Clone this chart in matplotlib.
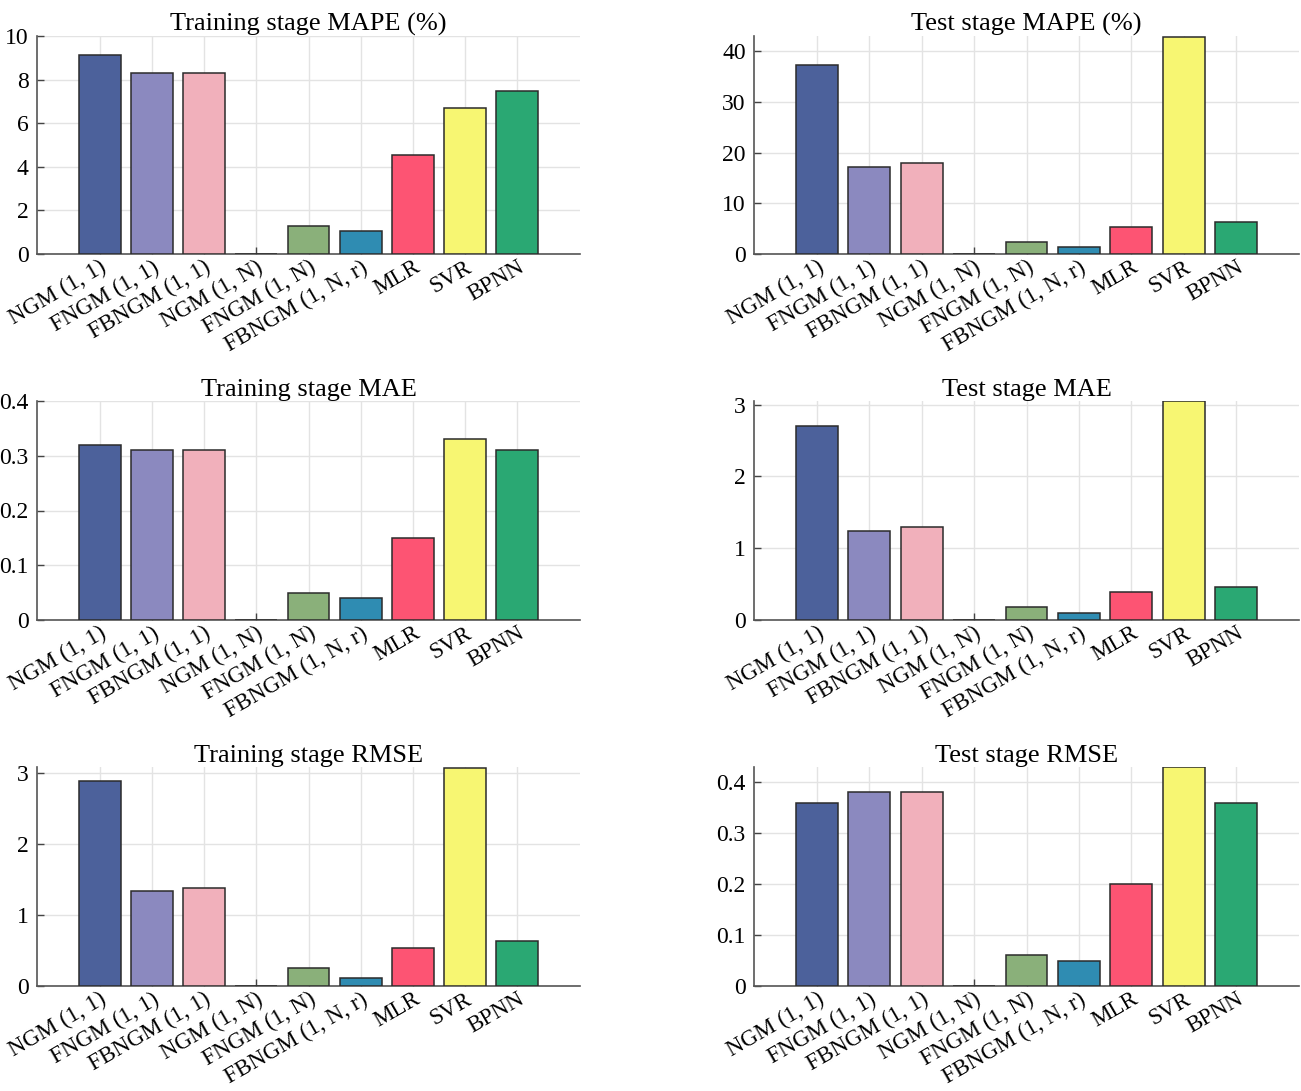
import matplotlib
matplotlib.use("Agg")
import matplotlib.pyplot as plt
import matplotlib.transforms as mtransforms
import numpy as np

models = ["NGM (1, 1)", "FNGM (1, 1)", "FBNGM (1, 1)", "NGM (1, N)", "FNGM (1, N)",
          "FBNGM (1, N, r)", "MLR", "SVR", "BPNN"]
colors = ["#4c619b", "#8b89bf", "#f1b0bb", "#ffffff", "#8ab07a",
          "#2f8cb2", "#fd5473", "#f7f672", "#2aa873"]

train_mape = [9.12, 8.3, 8.28, 0, 1.28, 1.05, 4.52, 6.72, 7.46]
test_mape = [37.3, 17.2, 17.9, 0, 2.4, 1.3, 5.3, 42.9, 6.3]
train_mae = [0.32, 0.31, 0.31, 0, 0.05, 0.04, 0.15, 0.33, 0.31]
test_mae = [2.7, 1.24, 1.3, 0, 0.18, 0.1, 0.39, 3.05, 0.46]
train_rmse = [2.88, 1.33, 1.38, 0, 0.25, 0.11, 0.53, 3.07, 0.63]
test_rmse = [0.36, 0.38, 0.38, 0, 0.06, 0.05, 0.20, 0.43, 0.36]

titles = ["Training stage MAPE (%)", "Test stage MAPE (%)",
          "Training stage MAE", "Test stage MAE",
          "Training stage RMSE", "Test stage RMSE"]
series = [train_mape, test_mape, train_mae, test_mae, train_rmse, test_rmse]
yticks = [[0, 2, 4, 6, 8, 10], [0, 10, 20, 30, 40],
          [0, 0.1, 0.2, 0.3, 0.4], [0, 1, 2, 3],
          [0, 1, 2, 3], [0, 0.1, 0.2, 0.3, 0.4]]
ytlabels = [["0", "2", "4", "6", "8", "10"], ["0", "10", "20", "30", "40"],
            ["0", "0.1", "0.2", "0.3", "0.4"], ["0", "1", "2", "3"],
            ["0", "1", "2", "3"], ["0", "0.1", "0.2", "0.3", "0.4"]]
ylims = [(0, 10), (0, 43), (0, 0.4), (0, 3.05), (0, 3.08), (0, 0.43)]

plt.rcParams["font.family"] = ["Liberation Serif", "DejaVu Serif"]

W, H = 1301, 1091
fig = plt.figure(figsize=(W / 100, H / 100), dpi=100)

lefts = [37, 754]
widths = [543, 545]
rows = [(36, 254), (401, 620), (767, 986)]

x = np.arange(1, len(models) + 1)
for i in range(6):
    r, c = divmod(i, 2)
    top, bot = rows[r]
    ax = fig.add_axes([lefts[c] / W, 1 - bot / H, widths[c] / W, (bot - top) / H])
    ax.bar(x, series[i], width=0.8, color=colors, edgecolor="#2b2b2b", linewidth=1.1, zorder=3)
    ax.set_xlim(-0.2, 10.2)
    ax.set_ylim(*ylims[i])
    ax.set_yticks(yticks[i])
    ax.set_yticklabels(ytlabels[i], fontsize=17)
    ax.set_xticks(x)
    ax.set_xticklabels(models, fontsize=16.5, rotation=30, ha="right", va="top",
                       rotation_mode="anchor")
    offset = mtransforms.ScaledTranslation(29 / 100, -13 / 100, fig.dpi_scale_trans)
    for lab in ax.get_xticklabels():
        lab.set_transform(lab.get_transform() + offset)
    ax.tick_params(direction="in", length=5, color="#444444", width=1)
    ax.tick_params(axis="y", pad=6)
    ax.tick_params(axis="x", pad=2)
    for s in ["top", "right"]:
        ax.spines[s].set_visible(False)
    for s in ["left", "bottom"]:
        ax.spines[s].set_color("#555555")
        ax.spines[s].set_linewidth(1.2)
    ax.grid(True, color="#e3e3e3", linewidth=1, zorder=0)
    ax.set_axisbelow(True)
    ax.set_title(titles[i], fontsize=19, pad=2)

fig.savefig("out.png", dpi=100, facecolor="white")
